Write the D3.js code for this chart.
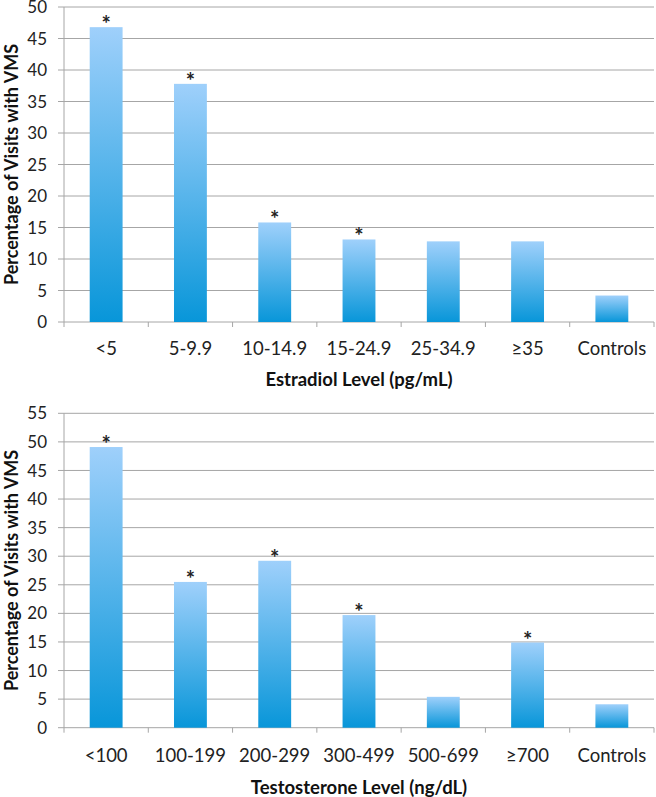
<!DOCTYPE html>
<html><head><meta charset="utf-8">
<script src="https://cdn.jsdelivr.net/npm/d3@7"></script>
<style>body{margin:0;background:#fff}svg{display:block}text{font-family:Lato,"Open Sans",sans-serif}</style>
</head><body>
<svg id="c" width="656" height="797"></svg>
<script>
const estradiolCats = ["<5","5-9.9","10-14.9","15-24.9","25-34.9","≥35","Controls"];
const estradiolVals = [46.8, 37.8, 15.8, 13.1, 12.8, 12.8, 4.2];
const estradiolSig  = [true, true, true, true, false, false, false];
const estradiolTicks = [0,5,10,15,20,25,30,35,40,45,50];

const testoCats = ["<100","100-199","200-299","300-499","500-699","≥700","Controls"];
const testoVals = [49.1, 25.5, 29.2, 19.7, 5.4, 14.9, 4.1];
const testoSig  = [true, true, true, true, false, true, false];
const testoTicks = [0,5,10,15,20,25,30,35,40,45,50,55];

const svg = d3.select("#c");
const defs = svg.append("defs");
const g = defs.append("linearGradient").attr("id","barGrad").attr("x1",0).attr("y1",0).attr("x2",0).attr("y2",1);
g.append("stop").attr("offset","0%").attr("stop-color","#9fd0fb");
g.append("stop").attr("offset","100%").attr("stop-color","#0896d9");

function chart(cats, vals, sig, ticks, yTop, yBottom, title, labelY, titleY) {
  const x = d3.scaleBand().domain(cats).range([64, 654]).paddingInner(0.61).paddingOuter(0.305);
  const yMax = ticks[ticks.length-1];
  const y = d3.scaleLinear().domain([0, yMax]).range([yBottom, yTop]);
  const root = svg.append("g");
  root.append("g").selectAll("line").data(ticks).join("line")
    .attr("x1", 58).attr("x2", 654)
    .attr("y1", d => y(d)).attr("y2", d => y(d))
    .attr("stroke", "#a6a6a6").attr("stroke-width", 1);
  root.append("line").attr("x1",64).attr("x2",64).attr("y1",y(yMax)).attr("y2",y(0)).attr("stroke","#a6a6a6");
  root.append("g").selectAll("text").data(ticks).join("text")
    .attr("x", 47).attr("y", d => y(d)).attr("dy","0.36em")
    .attr("text-anchor","end").attr("font-size",17).attr("fill","#222")
    .text(d => d);
  const bounds = d3.range(cats.length+1).map(i => 64 + i*(590/cats.length));
  root.append("g").selectAll("line").data(bounds).join("line")
    .attr("x1", d=>d).attr("x2", d=>d).attr("y1", y(0)).attr("y2", y(0)+5)
    .attr("stroke","#a6a6a6");
  root.append("g").selectAll("rect").data(vals).join("rect")
    .attr("x", (d,i) => x(cats[i])).attr("width", x.bandwidth())
    .attr("y", d => y(d)).attr("height", d => y(0)-y(d))
    .attr("fill","url(#barGrad)");
  root.append("g").selectAll("text").data(vals).join("text")
    .attr("x", (d,i) => x(cats[i]) + x.bandwidth()/2)
    .attr("y", d => y(d) + 5)
    .attr("text-anchor","middle").attr("font-size",22).attr("font-weight","bold").attr("fill","#222")
    .text((d,i) => sig[i] ? "*" : "");
  root.append("g").selectAll("text").data(cats).join("text")
    .attr("x", d => x(d) + x.bandwidth()/2).attr("y", labelY).attr("dy","0.36em")
    .attr("text-anchor","middle").attr("font-size",18.5).attr("fill","#222")
    .text(d => d);
  root.append("text").attr("x", 359).attr("y", titleY).attr("dy","0.36em")
    .attr("text-anchor","middle").attr("font-size",18.5).attr("font-weight","bold").attr("fill","#111")
    .text(title);
  root.append("text")
    .attr("transform", `translate(12,${(yTop+yBottom)/2}) rotate(-90)`)
    .attr("dy","0.36em")
    .attr("text-anchor","middle").attr("font-size",18).attr("font-weight","bold").attr("fill","#111")
    .text("Percentage of Visits with VMS");
}

chart(estradiolCats, estradiolVals, estradiolSig, estradiolTicks, 7, 322, "Estradiol Level (pg/mL)", 348, 379);
chart(testoCats, testoVals, testoSig, testoTicks, 413.3, 727.7, "Testosterone Level (ng/dL)", 755, 787);
</script>
</body></html>
